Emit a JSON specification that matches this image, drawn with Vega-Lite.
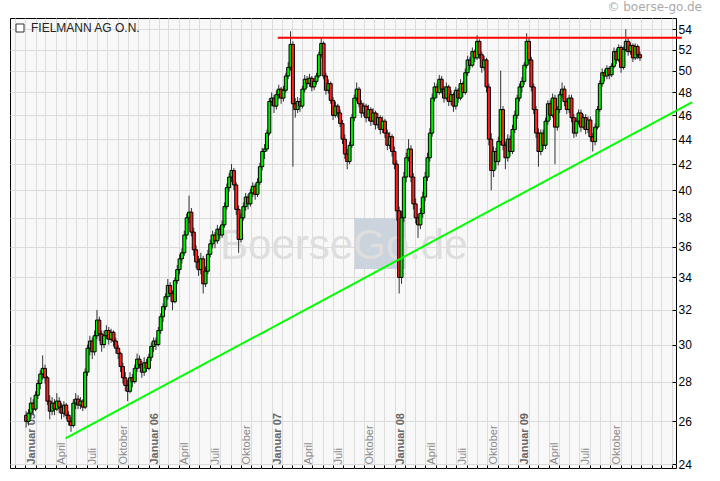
{
"$schema": "https://vega.github.io/schema/vega-lite/v6.json",
"width": 666, "height": 450,
"autosize": {"type": "none"},
"padding": {"left": 10, "top": 18, "right": 44, "bottom": 13},
"background": "white",
"title": {"text": "© boerse-go.de", "anchor": "end", "frame": "group", "dx": 26, "offset": 4, "fontSize": 12, "font": "DejaVu Sans", "fontWeight": "normal", "color": "#aaaaaa"},
"config": {"view": {"fill": "#f8f8f8", "stroke": "black", "strokeWidth": 1}, "axis": {"domain": false, "gridColor": "#dcdcdc", "gridOpacity": 1}},
"datasets": {
"wm": [{"a": "2007-09-04", "b": "2008-02-03", "lo": 34.54, "hi": 37.99}],
"wt": [{"d": "2007-08-03", "v": 35.19, "t": "BoerseGo.de"}],
"trend": [{"d": "2005-04-30", "v": 25.19}, {"d": "2010-06-01", "v": 47.14}],
"res": [{"d": "2007-01-19", "v": 53.16}, {"d": "2010-05-01", "v": 53.16}],
"k": [
{"d":"2005-01-03","o":26.3,"h":26.5,"l":25.7,"c":26.0},
{"d":"2005-01-10","o":26.0,"h":26.6,"l":25.8,"c":26.4},
{"d":"2005-01-17","o":26.4,"h":27.2,"l":26.2,"c":26.9},
{"d":"2005-01-24","o":26.9,"h":27.1,"l":26.3,"c":26.6},
{"d":"2005-01-31","o":26.6,"h":27.5,"l":26.5,"c":27.3},
{"d":"2005-02-07","o":27.3,"h":28.1,"l":27.1,"c":27.9},
{"d":"2005-02-14","o":27.9,"h":28.6,"l":27.6,"c":28.4},
{"d":"2005-02-21","o":28.4,"h":29.4,"l":28.1,"c":28.7},
{"d":"2005-02-28","o":28.7,"h":28.9,"l":27.9,"c":28.2},
{"d":"2005-03-07","o":28.2,"h":28.3,"l":26.8,"c":27.0},
{"d":"2005-03-14","o":27.0,"h":27.3,"l":26.1,"c":26.5},
{"d":"2005-03-21","o":26.5,"h":27.2,"l":26.3,"c":26.9},
{"d":"2005-03-28","o":26.9,"h":27.1,"l":26.3,"c":26.6},
{"d":"2005-04-04","o":26.6,"h":27.4,"l":26.5,"c":27.0},
{"d":"2005-04-11","o":27.0,"h":27.2,"l":26.4,"c":26.7},
{"d":"2005-04-18","o":26.7,"h":26.9,"l":26.1,"c":26.4},
{"d":"2005-04-25","o":26.4,"h":27.0,"l":26.2,"c":26.8},
{"d":"2005-05-02","o":26.8,"h":26.9,"l":26.1,"c":26.3},
{"d":"2005-05-09","o":26.3,"h":26.5,"l":25.8,"c":26.0},
{"d":"2005-05-16","o":26.0,"h":26.2,"l":25.5,"c":25.8},
{"d":"2005-05-23","o":25.8,"h":27.1,"l":25.7,"c":26.9},
{"d":"2005-05-30","o":26.9,"h":27.4,"l":26.6,"c":27.1},
{"d":"2005-06-06","o":27.1,"h":27.3,"l":26.6,"c":26.8},
{"d":"2005-06-13","o":26.8,"h":27.2,"l":26.6,"c":27.0},
{"d":"2005-06-20","o":27.0,"h":27.1,"l":26.5,"c":26.7},
{"d":"2005-06-27","o":26.7,"h":28.7,"l":26.6,"c":28.5},
{"d":"2005-07-04","o":28.5,"h":30.0,"l":28.3,"c":29.8},
{"d":"2005-07-11","o":29.8,"h":30.5,"l":29.4,"c":30.2},
{"d":"2005-07-18","o":30.2,"h":30.4,"l":29.2,"c":29.6},
{"d":"2005-07-25","o":29.6,"h":30.8,"l":29.4,"c":30.5},
{"d":"2005-08-01","o":30.5,"h":32.0,"l":30.3,"c":31.4},
{"d":"2005-08-08","o":31.4,"h":31.6,"l":30.2,"c":30.6},
{"d":"2005-08-15","o":30.6,"h":30.8,"l":29.6,"c":30.0},
{"d":"2005-08-22","o":30.0,"h":30.8,"l":29.8,"c":30.5},
{"d":"2005-08-29","o":30.5,"h":31.1,"l":30.3,"c":30.8},
{"d":"2005-09-05","o":30.8,"h":31.0,"l":30.0,"c":30.3},
{"d":"2005-09-12","o":30.3,"h":30.9,"l":30.1,"c":30.7},
{"d":"2005-09-19","o":30.7,"h":30.8,"l":29.9,"c":30.2},
{"d":"2005-09-26","o":30.2,"h":30.4,"l":29.5,"c":29.8},
{"d":"2005-10-03","o":29.8,"h":30.0,"l":29.2,"c":29.5},
{"d":"2005-10-10","o":29.5,"h":29.6,"l":28.5,"c":28.8},
{"d":"2005-10-17","o":28.8,"h":29.0,"l":27.9,"c":28.2},
{"d":"2005-10-24","o":28.2,"h":28.5,"l":27.5,"c":27.8},
{"d":"2005-10-31","o":27.8,"h":28.1,"l":27.0,"c":27.5},
{"d":"2005-11-07","o":27.5,"h":28.5,"l":27.4,"c":28.2},
{"d":"2005-11-14","o":28.2,"h":28.4,"l":27.7,"c":28.0},
{"d":"2005-11-21","o":28.0,"h":28.9,"l":27.9,"c":28.7},
{"d":"2005-11-28","o":28.7,"h":29.5,"l":28.5,"c":29.2},
{"d":"2005-12-05","o":29.2,"h":29.4,"l":28.7,"c":28.9},
{"d":"2005-12-12","o":28.9,"h":29.1,"l":28.2,"c":28.5},
{"d":"2005-12-19","o":28.5,"h":29.3,"l":28.3,"c":29.0},
{"d":"2005-12-26","o":29.0,"h":29.2,"l":28.5,"c":28.7},
{"d":"2006-01-02","o":28.7,"h":29.5,"l":28.6,"c":29.3},
{"d":"2006-01-09","o":29.3,"h":30.1,"l":29.1,"c":29.9},
{"d":"2006-01-16","o":29.9,"h":30.4,"l":29.6,"c":30.2},
{"d":"2006-01-23","o":30.2,"h":30.4,"l":29.7,"c":30.0},
{"d":"2006-01-30","o":30.0,"h":31.0,"l":29.9,"c":30.8},
{"d":"2006-02-06","o":30.8,"h":31.8,"l":30.6,"c":31.6},
{"d":"2006-02-13","o":31.6,"h":32.4,"l":31.3,"c":32.2},
{"d":"2006-02-20","o":32.2,"h":33.0,"l":32.0,"c":32.8},
{"d":"2006-02-27","o":32.8,"h":33.9,"l":32.6,"c":33.5},
{"d":"2006-03-06","o":33.5,"h":33.7,"l":32.8,"c":33.0},
{"d":"2006-03-13","o":33.0,"h":33.2,"l":32.0,"c":32.5},
{"d":"2006-03-20","o":32.5,"h":34.0,"l":32.4,"c":33.8},
{"d":"2006-03-27","o":33.8,"h":34.8,"l":33.6,"c":34.5},
{"d":"2006-04-03","o":34.5,"h":35.5,"l":34.2,"c":35.2},
{"d":"2006-04-10","o":35.2,"h":35.9,"l":34.9,"c":35.6},
{"d":"2006-04-17","o":35.6,"h":37.1,"l":35.4,"c":36.8},
{"d":"2006-04-24","o":36.8,"h":38.3,"l":36.5,"c":38.0},
{"d":"2006-05-01","o":38.0,"h":39.6,"l":37.6,"c":38.4},
{"d":"2006-05-08","o":38.4,"h":38.7,"l":36.7,"c":37.0},
{"d":"2006-05-15","o":37.0,"h":37.3,"l":35.4,"c":35.8},
{"d":"2006-05-22","o":35.8,"h":36.1,"l":34.6,"c":35.0},
{"d":"2006-05-29","o":35.0,"h":35.4,"l":34.1,"c":34.5},
{"d":"2006-06-05","o":34.5,"h":35.6,"l":34.2,"c":35.2},
{"d":"2006-06-12","o":35.2,"h":35.4,"l":33.0,"c":33.6},
{"d":"2006-06-19","o":33.6,"h":34.7,"l":33.4,"c":34.4},
{"d":"2006-06-26","o":34.4,"h":35.8,"l":34.2,"c":35.5},
{"d":"2006-07-03","o":35.5,"h":36.5,"l":35.3,"c":36.2},
{"d":"2006-07-10","o":36.2,"h":37.1,"l":35.9,"c":36.8},
{"d":"2006-07-17","o":36.8,"h":37.0,"l":35.9,"c":36.4},
{"d":"2006-07-24","o":36.4,"h":37.5,"l":36.2,"c":37.2},
{"d":"2006-07-31","o":37.2,"h":37.4,"l":36.5,"c":36.8},
{"d":"2006-08-07","o":36.8,"h":37.8,"l":36.6,"c":37.5},
{"d":"2006-08-14","o":37.5,"h":39.1,"l":37.3,"c":38.8},
{"d":"2006-08-21","o":38.8,"h":40.5,"l":38.6,"c":40.2},
{"d":"2006-08-28","o":40.2,"h":41.3,"l":39.9,"c":41.0},
{"d":"2006-09-04","o":41.0,"h":42.0,"l":40.6,"c":41.5},
{"d":"2006-09-11","o":41.5,"h":41.7,"l":40.0,"c":40.4},
{"d":"2006-09-18","o":40.4,"h":40.6,"l":38.2,"c":38.6},
{"d":"2006-09-25","o":38.6,"h":38.9,"l":35.6,"c":36.5},
{"d":"2006-10-02","o":36.5,"h":38.3,"l":36.3,"c":38.0},
{"d":"2006-10-09","o":38.0,"h":39.1,"l":37.8,"c":38.8},
{"d":"2006-10-16","o":38.8,"h":39.8,"l":38.5,"c":39.5},
{"d":"2006-10-23","o":39.5,"h":39.7,"l":38.6,"c":39.0},
{"d":"2006-10-30","o":39.0,"h":40.1,"l":38.8,"c":39.8},
{"d":"2006-11-06","o":39.8,"h":40.6,"l":39.5,"c":40.3},
{"d":"2006-11-13","o":40.3,"h":40.5,"l":39.3,"c":39.7},
{"d":"2006-11-20","o":39.7,"h":40.9,"l":39.5,"c":40.6},
{"d":"2006-11-27","o":40.6,"h":42.1,"l":40.4,"c":41.8},
{"d":"2006-12-04","o":41.8,"h":43.3,"l":41.5,"c":43.0},
{"d":"2006-12-11","o":43.0,"h":43.6,"l":42.4,"c":43.2},
{"d":"2006-12-18","o":43.2,"h":44.8,"l":43.0,"c":44.5},
{"d":"2006-12-25","o":44.5,"h":47.5,"l":44.3,"c":47.2},
{"d":"2007-01-01","o":47.2,"h":48.0,"l":46.8,"c":47.5},
{"d":"2007-01-08","o":47.5,"h":47.8,"l":46.2,"c":46.8},
{"d":"2007-01-15","o":46.8,"h":48.2,"l":46.5,"c":47.8},
{"d":"2007-01-22","o":47.8,"h":48.7,"l":47.4,"c":48.3},
{"d":"2007-01-29","o":48.3,"h":48.5,"l":47.0,"c":47.5},
{"d":"2007-02-05","o":47.5,"h":48.6,"l":47.2,"c":48.2},
{"d":"2007-02-12","o":48.2,"h":49.8,"l":48.0,"c":49.5},
{"d":"2007-02-19","o":49.5,"h":50.8,"l":49.2,"c":50.3},
{"d":"2007-02-26","o":50.3,"h":53.8,"l":50.0,"c":52.5},
{"d":"2007-03-05","o":52.5,"h":52.8,"l":41.8,"c":47.0},
{"d":"2007-03-12","o":47.0,"h":47.5,"l":45.8,"c":46.5},
{"d":"2007-03-19","o":46.5,"h":47.6,"l":46.2,"c":47.2},
{"d":"2007-03-26","o":47.2,"h":47.5,"l":46.3,"c":46.8},
{"d":"2007-04-02","o":46.8,"h":48.6,"l":46.6,"c":48.3},
{"d":"2007-04-09","o":48.3,"h":49.6,"l":48.0,"c":49.2},
{"d":"2007-04-16","o":49.2,"h":49.5,"l":48.4,"c":48.8},
{"d":"2007-04-23","o":48.8,"h":49.7,"l":48.5,"c":49.3},
{"d":"2007-04-30","o":49.3,"h":49.5,"l":48.1,"c":48.5},
{"d":"2007-05-07","o":48.5,"h":49.3,"l":48.2,"c":49.0},
{"d":"2007-05-14","o":49.0,"h":49.8,"l":48.7,"c":49.5},
{"d":"2007-05-21","o":49.5,"h":51.8,"l":49.3,"c":51.5},
{"d":"2007-05-28","o":51.5,"h":53.1,"l":51.2,"c":52.6},
{"d":"2007-06-04","o":52.6,"h":52.8,"l":49.2,"c":49.5},
{"d":"2007-06-11","o":49.5,"h":49.8,"l":47.8,"c":48.2},
{"d":"2007-06-18","o":48.2,"h":49.2,"l":47.9,"c":48.8},
{"d":"2007-06-25","o":48.8,"h":49.0,"l":47.0,"c":47.3},
{"d":"2007-07-02","o":47.3,"h":47.6,"l":45.6,"c":46.0},
{"d":"2007-07-09","o":46.0,"h":47.2,"l":45.8,"c":46.8},
{"d":"2007-07-16","o":46.8,"h":47.0,"l":45.8,"c":46.2},
{"d":"2007-07-23","o":46.2,"h":46.5,"l":45.0,"c":45.3},
{"d":"2007-07-30","o":45.3,"h":45.6,"l":43.6,"c":44.0},
{"d":"2007-08-06","o":44.0,"h":44.4,"l":42.4,"c":42.8},
{"d":"2007-08-13","o":42.8,"h":43.2,"l":41.6,"c":42.2},
{"d":"2007-08-20","o":42.2,"h":43.8,"l":42.0,"c":43.5},
{"d":"2007-08-27","o":43.5,"h":46.1,"l":43.3,"c":45.8},
{"d":"2007-09-03","o":45.8,"h":47.8,"l":45.5,"c":47.5},
{"d":"2007-09-10","o":47.5,"h":48.9,"l":47.2,"c":48.3},
{"d":"2007-09-17","o":48.3,"h":48.5,"l":46.7,"c":47.0},
{"d":"2007-09-24","o":47.0,"h":47.3,"l":45.8,"c":46.2},
{"d":"2007-10-01","o":46.2,"h":47.1,"l":45.9,"c":46.8},
{"d":"2007-10-08","o":46.8,"h":47.0,"l":45.4,"c":45.8},
{"d":"2007-10-15","o":45.8,"h":46.9,"l":45.5,"c":46.5},
{"d":"2007-10-22","o":46.5,"h":46.7,"l":45.1,"c":45.5},
{"d":"2007-10-29","o":45.5,"h":46.6,"l":45.2,"c":46.2},
{"d":"2007-11-05","o":46.2,"h":46.4,"l":44.8,"c":45.2},
{"d":"2007-11-12","o":45.2,"h":46.2,"l":44.9,"c":45.8},
{"d":"2007-11-19","o":45.8,"h":46.0,"l":44.4,"c":44.8},
{"d":"2007-11-26","o":44.8,"h":45.9,"l":44.5,"c":45.5},
{"d":"2007-12-03","o":45.5,"h":45.7,"l":44.1,"c":44.5},
{"d":"2007-12-10","o":44.5,"h":44.8,"l":43.1,"c":43.5},
{"d":"2007-12-17","o":43.5,"h":44.6,"l":43.2,"c":44.2},
{"d":"2007-12-24","o":44.2,"h":44.4,"l":42.6,"c":43.0},
{"d":"2007-12-31","o":43.0,"h":43.4,"l":41.6,"c":42.0},
{"d":"2008-01-07","o":42.0,"h":42.3,"l":37.8,"c":38.5},
{"d":"2008-01-14","o":38.5,"h":38.8,"l":33.0,"c":34.0},
{"d":"2008-01-21","o":34.0,"h":38.5,"l":33.6,"c":38.0},
{"d":"2008-01-28","o":38.0,"h":41.4,"l":37.7,"c":41.0},
{"d":"2008-02-04","o":41.0,"h":42.9,"l":40.6,"c":42.5},
{"d":"2008-02-11","o":42.5,"h":44.0,"l":42.2,"c":43.2},
{"d":"2008-02-18","o":43.2,"h":43.5,"l":40.6,"c":41.0},
{"d":"2008-02-25","o":41.0,"h":41.3,"l":38.6,"c":39.0},
{"d":"2008-03-03","o":39.0,"h":39.4,"l":37.6,"c":38.0},
{"d":"2008-03-10","o":38.0,"h":38.3,"l":36.6,"c":37.5},
{"d":"2008-03-17","o":37.5,"h":38.7,"l":37.2,"c":38.3},
{"d":"2008-03-24","o":38.3,"h":39.9,"l":38.0,"c":39.5},
{"d":"2008-03-31","o":39.5,"h":41.4,"l":39.2,"c":41.0},
{"d":"2008-04-07","o":41.0,"h":42.9,"l":40.7,"c":42.5},
{"d":"2008-04-14","o":42.5,"h":44.9,"l":42.2,"c":44.5},
{"d":"2008-04-21","o":44.5,"h":47.9,"l":44.2,"c":47.5},
{"d":"2008-04-28","o":47.5,"h":48.9,"l":47.2,"c":48.5},
{"d":"2008-05-05","o":48.5,"h":48.8,"l":47.5,"c":48.0},
{"d":"2008-05-12","o":48.0,"h":49.6,"l":47.8,"c":49.2},
{"d":"2008-05-19","o":49.2,"h":49.5,"l":47.9,"c":48.3},
{"d":"2008-05-26","o":48.3,"h":48.6,"l":47.1,"c":47.5},
{"d":"2008-06-02","o":47.5,"h":48.9,"l":47.3,"c":48.5},
{"d":"2008-06-09","o":48.5,"h":48.7,"l":46.8,"c":47.2},
{"d":"2008-06-16","o":47.2,"h":48.2,"l":46.9,"c":47.8},
{"d":"2008-06-23","o":47.8,"h":48.0,"l":46.3,"c":46.8},
{"d":"2008-06-30","o":46.8,"h":48.5,"l":46.5,"c":48.2},
{"d":"2008-07-07","o":48.2,"h":48.4,"l":47.1,"c":47.5},
{"d":"2008-07-14","o":47.5,"h":49.2,"l":47.3,"c":48.8},
{"d":"2008-07-21","o":48.8,"h":49.0,"l":47.6,"c":48.0},
{"d":"2008-07-28","o":48.0,"h":50.2,"l":47.8,"c":49.8},
{"d":"2008-08-04","o":49.8,"h":51.4,"l":49.5,"c":51.0},
{"d":"2008-08-11","o":51.0,"h":51.3,"l":50.1,"c":50.5},
{"d":"2008-08-18","o":50.5,"h":52.2,"l":50.3,"c":51.8},
{"d":"2008-08-25","o":51.8,"h":52.0,"l":50.8,"c":51.2},
{"d":"2008-09-01","o":51.2,"h":53.4,"l":51.0,"c":52.8},
{"d":"2008-09-08","o":52.8,"h":53.0,"l":51.1,"c":51.5},
{"d":"2008-09-15","o":51.5,"h":51.8,"l":49.8,"c":50.3},
{"d":"2008-09-22","o":50.3,"h":51.4,"l":50.0,"c":51.0},
{"d":"2008-09-29","o":51.0,"h":51.2,"l":48.0,"c":48.5},
{"d":"2008-10-06","o":48.5,"h":48.8,"l":43.5,"c":44.0},
{"d":"2008-10-13","o":44.0,"h":44.5,"l":40.0,"c":41.5},
{"d":"2008-10-20","o":41.5,"h":43.4,"l":41.0,"c":43.0},
{"d":"2008-10-27","o":43.0,"h":43.3,"l":41.6,"c":42.2},
{"d":"2008-11-03","o":42.2,"h":44.2,"l":41.9,"c":43.8},
{"d":"2008-11-10","o":43.8,"h":50.0,"l":43.5,"c":46.5},
{"d":"2008-11-17","o":46.5,"h":46.8,"l":43.1,"c":43.5},
{"d":"2008-11-24","o":43.5,"h":43.8,"l":41.6,"c":42.5},
{"d":"2008-12-01","o":42.5,"h":44.4,"l":42.2,"c":44.0},
{"d":"2008-12-08","o":44.0,"h":44.3,"l":42.6,"c":43.0},
{"d":"2008-12-15","o":43.0,"h":45.2,"l":42.8,"c":44.8},
{"d":"2008-12-22","o":44.8,"h":46.4,"l":44.5,"c":46.0},
{"d":"2008-12-29","o":46.0,"h":47.8,"l":45.7,"c":47.5},
{"d":"2009-01-05","o":47.5,"h":48.8,"l":47.2,"c":48.5},
{"d":"2009-01-12","o":48.5,"h":49.4,"l":48.0,"c":49.0},
{"d":"2009-01-19","o":49.0,"h":50.8,"l":48.7,"c":50.5},
{"d":"2009-01-26","o":50.5,"h":53.6,"l":50.2,"c":52.8},
{"d":"2009-02-02","o":52.8,"h":53.1,"l":50.6,"c":51.0},
{"d":"2009-02-09","o":51.0,"h":51.3,"l":48.1,"c":48.5},
{"d":"2009-02-16","o":48.5,"h":48.8,"l":46.1,"c":46.5},
{"d":"2009-02-23","o":46.5,"h":46.8,"l":44.1,"c":44.5},
{"d":"2009-03-02","o":44.5,"h":44.9,"l":41.8,"c":43.0},
{"d":"2009-03-09","o":43.0,"h":44.8,"l":42.7,"c":44.5},
{"d":"2009-03-16","o":44.5,"h":44.8,"l":43.1,"c":43.5},
{"d":"2009-03-23","o":43.5,"h":45.8,"l":43.2,"c":45.5},
{"d":"2009-03-30","o":45.5,"h":47.3,"l":45.2,"c":47.0},
{"d":"2009-04-06","o":47.0,"h":47.3,"l":45.6,"c":46.0},
{"d":"2009-04-13","o":46.0,"h":47.9,"l":45.8,"c":47.5},
{"d":"2009-04-20","o":47.5,"h":47.8,"l":42.0,"c":45.0},
{"d":"2009-04-27","o":45.0,"h":46.8,"l":44.7,"c":46.5},
{"d":"2009-05-04","o":46.5,"h":48.1,"l":46.2,"c":47.8},
{"d":"2009-05-11","o":47.8,"h":48.9,"l":47.5,"c":48.3},
{"d":"2009-05-18","o":48.3,"h":48.6,"l":46.8,"c":47.2},
{"d":"2009-05-25","o":47.2,"h":47.5,"l":46.1,"c":46.5},
{"d":"2009-06-01","o":46.5,"h":47.8,"l":46.2,"c":47.5},
{"d":"2009-06-08","o":47.5,"h":47.8,"l":45.4,"c":45.8},
{"d":"2009-06-15","o":45.8,"h":46.1,"l":44.1,"c":44.5},
{"d":"2009-06-22","o":44.5,"h":45.8,"l":44.2,"c":45.5},
{"d":"2009-06-29","o":45.5,"h":46.5,"l":45.2,"c":46.2},
{"d":"2009-07-06","o":46.2,"h":46.5,"l":44.6,"c":45.0},
{"d":"2009-07-13","o":45.0,"h":46.1,"l":44.8,"c":45.8},
{"d":"2009-07-20","o":45.8,"h":46.1,"l":44.4,"c":44.8},
{"d":"2009-07-27","o":44.8,"h":45.9,"l":44.5,"c":45.6},
{"d":"2009-08-03","o":45.6,"h":45.9,"l":43.8,"c":44.2},
{"d":"2009-08-10","o":44.2,"h":44.5,"l":43.0,"c":43.8},
{"d":"2009-08-17","o":43.8,"h":45.3,"l":43.5,"c":45.0},
{"d":"2009-08-24","o":45.0,"h":46.8,"l":44.8,"c":46.5},
{"d":"2009-08-31","o":46.5,"h":49.1,"l":46.3,"c":48.8},
{"d":"2009-09-07","o":48.8,"h":50.2,"l":48.5,"c":49.8},
{"d":"2009-09-14","o":49.8,"h":50.1,"l":49.0,"c":49.5},
{"d":"2009-09-21","o":49.5,"h":50.5,"l":49.2,"c":50.2},
{"d":"2009-09-28","o":50.2,"h":50.4,"l":49.2,"c":49.6},
{"d":"2009-10-05","o":49.6,"h":50.7,"l":49.4,"c":50.4},
{"d":"2009-10-12","o":50.4,"h":52.2,"l":50.2,"c":51.8},
{"d":"2009-10-19","o":51.8,"h":52.1,"l":50.6,"c":51.0},
{"d":"2009-10-26","o":51.0,"h":52.5,"l":50.8,"c":52.2},
{"d":"2009-11-02","o":52.2,"h":52.4,"l":49.8,"c":50.3},
{"d":"2009-11-09","o":50.3,"h":52.3,"l":50.1,"c":52.0},
{"d":"2009-11-16","o":52.0,"h":54.0,"l":51.8,"c":52.8},
{"d":"2009-11-23","o":52.8,"h":53.1,"l":51.4,"c":51.8},
{"d":"2009-11-30","o":51.8,"h":52.7,"l":51.5,"c":52.4},
{"d":"2009-12-07","o":52.4,"h":52.6,"l":50.8,"c":51.2},
{"d":"2009-12-14","o":51.2,"h":52.6,"l":51.0,"c":52.3},
{"d":"2009-12-21","o":52.3,"h":52.5,"l":51.1,"c":51.5},
{"d":"2009-12-28","o":51.5,"h":51.8,"l":50.9,"c":51.2}
]
},
"layer": [
{
"data": {"name": "wm"},
"mark": {"type": "rect", "color": "#cbd3dc"},
"encoding": {
"x": {"field": "a", "type": "temporal",
"scale": {"domain": [{"year": 2004, "month": 12, "date": 1}, {"year": 2010, "month": 3, "date": 30}]},
"axis": {"orient": "bottom", "title": null, "tickCount": {"interval": "month", "step": 1}, "grid": true, "gridColor": "#dcdcdc", "domain": false, "ticks": true, "tickSize": -3, "tickColor": "black",
"labelExpr": "year(datum.value) >= 2010 ? '' : month(datum.value) == 0 ? 'Januar ' + timeFormat(datum.value, '%y') : month(datum.value) == 3 ? 'April' : month(datum.value) == 6 ? 'Juli' : month(datum.value) == 9 ? 'Oktober' : ''",
"labelAngle": 270, "labelAlign": "left", "labelBaseline": "top", "labelPadding": -1,
"labelFont": "Liberation Sans", "labelFontSize": 11,
"labelColor": {"condition": {"test": "month(datum.value) == 0", "value": "#666666"}, "value": "#888888"},
"labelFontWeight": {"condition": {"test": "month(datum.value) == 0", "value": "bold"}, "value": "normal"},
"labelOverlap": false, "labelBound": false, "labelFlush": false}},
"x2": {"field": "b"},
"y": {"field": "lo", "type": "quantitative",
"scale": {"type": "log", "domain": [23.835, 55.15], "nice": false, "zero": false},
"axis": {"orient": "right", "title": null, "values": [24, 26, 28, 30, 32, 34, 36, 38, 40, 42, 44, 46, 48, 50, 52, 54], "labelExpr": "format(datum.value, 'd')", "grid": true, "gridColor": "#dcdcdc", "domain": false, "tickSize": -4, "tickColor": "black", "labelPadding": 6, "labelFont": "Liberation Sans", "labelFontSize": 12, "labelColor": "black", "labelBound": false, "labelOverlap": false}},
"y2": {"field": "hi"}
}
},
{
"data": {"name": "wt"},
"mark": {"type": "text", "font": "Liberation Sans", "fontSize": 42, "color": "#dedede", "align": "center", "baseline": "alphabetic"},
"encoding": {
"x": {"field": "d", "type": "temporal"},
"y": {"field": "v", "type": "quantitative"},
"text": {"field": "t"}
}
},
{
"data": {"name": "k"},
"mark": {"type": "rule", "strokeWidth": 1},
"encoding": {
"x": {"field": "d", "type": "temporal"},
"y": {"field": "l", "type": "quantitative"},
"y2": {"field": "h"},
"stroke": {"datum": "FIELMANN AG O.N.", "type": "nominal", "scale": {"range": ["#333333"]},
"legend": {"title": null, "orient": "top-left", "offset": 4, "padding": 0, "symbolType": "square", "symbolSize": 64, "symbolFillColor": "white", "symbolStrokeColor": "black", "symbolStrokeWidth": 1, "labelFont": "Liberation Sans", "labelFontSize": 12, "labelColor": "#222222", "labelOffset": 5}}
}
},
{
"data": {"name": "k"},
"mark": {"type": "bar", "size": 3, "stroke": "black", "strokeWidth": 1},
"encoding": {
"x": {"field": "d", "type": "temporal"},
"y": {"field": "o", "type": "quantitative"},
"y2": {"field": "c"},
"fill": {"condition": {"test": "datum.c >= datum.o", "value": "#00ee00"}, "value": "#ff2020"}
}
},
{
"data": {"name": "trend"},
"mark": {"type": "line", "color": "#00ff00", "strokeWidth": 2, "clip": false},
"encoding": {
"x": {"field": "d", "type": "temporal"},
"y": {"field": "v", "type": "quantitative"}
}
},
{
"data": {"name": "res"},
"mark": {"type": "line", "color": "#ff0000", "strokeWidth": 2, "clip": false},
"encoding": {
"x": {"field": "d", "type": "temporal"},
"y": {"field": "v", "type": "quantitative"}
}
}
]
}
